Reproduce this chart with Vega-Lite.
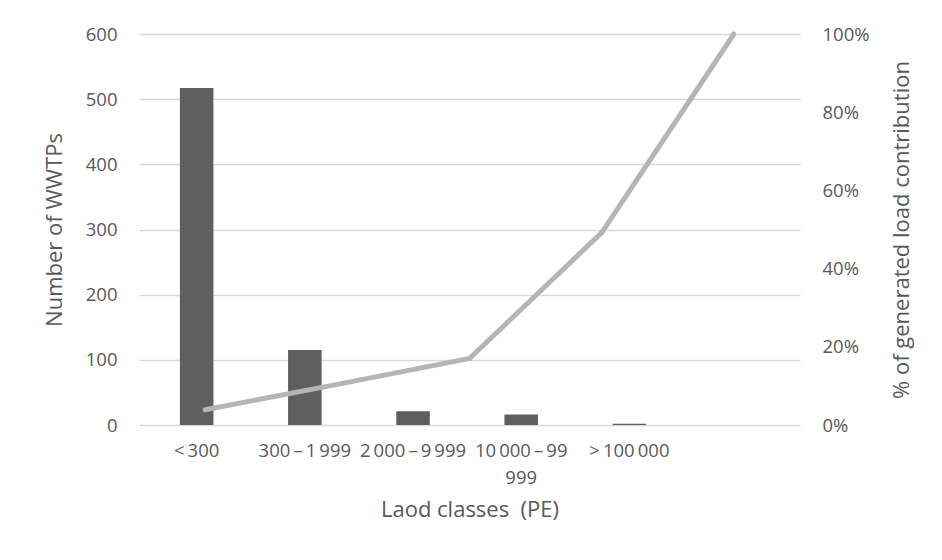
{
  "$schema": "https://vega.github.io/schema/vega-lite/v6.json",
  "width": 661,
  "height": 391,
  "autosize": "none",
  "padding": {"left": 139, "top": 34, "right": 142, "bottom": 135},
  "background": "white",
  "config": {
    "view": {"stroke": null},
    "font": "Open Sans",
    "axis": {
      "labelColor": "#595959",
      "titleColor": "#595959",
      "labelFont": "Open Sans",
      "titleFont": "Open Sans",
      "labelFontSize": 18.5,
      "titleFontSize": 22,
      "titleFontWeight": "normal",
      "ticks": false,
      "domain": false,
      "gridColor": "#D9D9D9",
      "gridWidth": 1.5
    }
  },
  "data": {
    "values": [
      {"cls": "< 300", "n": 517, "pct": 0.039},
      {"cls": "300 – 1 999", "n": 115, "pct": 0.104},
      {"cls": "2 000 – 9 999", "n": 21, "pct": 0.17},
      {"cls": "10 000 – 99 999", "n": 16, "pct": 0.492},
      {"cls": "> 100 000", "n": 2, "pct": 1.0}
    ]
  },
  "layer": [
    {
      "mark": {"type": "bar", "color": "#5F5F5F"},
      "encoding": {
        "x": {
          "field": "cls",
          "type": "nominal",
          "sort": null,
          "scale": {"paddingInner": 0.69, "paddingOuter": 0.9, "align": 0.21},
          "axis": {
            "title": "Laod classes \u00a0(PE)",
            "labelAngle": 0,
            "labelPadding": 16,
            "labelLineHeight": 27,
            "labelExpr": "datum.label == '10 000 – 99 999' ? ['10\u2009000\u2009–\u200999', '999'] : replace(datum.label, / /g, '\u2009')",
            "titlePadding": 13,
            "grid": false
          }
        },
        "y": {
          "field": "n",
          "type": "quantitative",
          "scale": {"domain": [0, 600]},
          "axis": {
            "values": [0, 100, 200, 300, 400, 500, 600],
            "title": "Number of WWTPs",
            "grid": true,
            "labelPadding": 22,
            "titlePadding": 19
          }
        }
      }
    },
    {
      "mark": {"type": "line", "color": "#B5B5B5", "strokeWidth": 5, "strokeCap": "round"},
      "encoding": {
        "x": {
          "field": "cls",
          "type": "nominal",
          "sort": null,
          "scale": {"type": "point", "padding": 0.5},
          "axis": null
        },
        "y": {
          "field": "pct",
          "type": "quantitative",
          "scale": {"domain": [0, 1]},
          "axis": {
            "orient": "right",
            "format": ".0%",
            "values": [0, 0.2, 0.4, 0.6, 0.8, 1],
            "grid": false,
            "title": "% of generated load contribution",
            "titleAngle": 270,
            "titleBaseline": "bottom",
            "labelPadding": 22,
            "titlePadding": 44
          }
        }
      }
    }
  ],
  "resolve": {
    "scale": {"x": "independent", "y": "independent"},
    "axis": {"x": "independent", "y": "independent"}
  }
}
